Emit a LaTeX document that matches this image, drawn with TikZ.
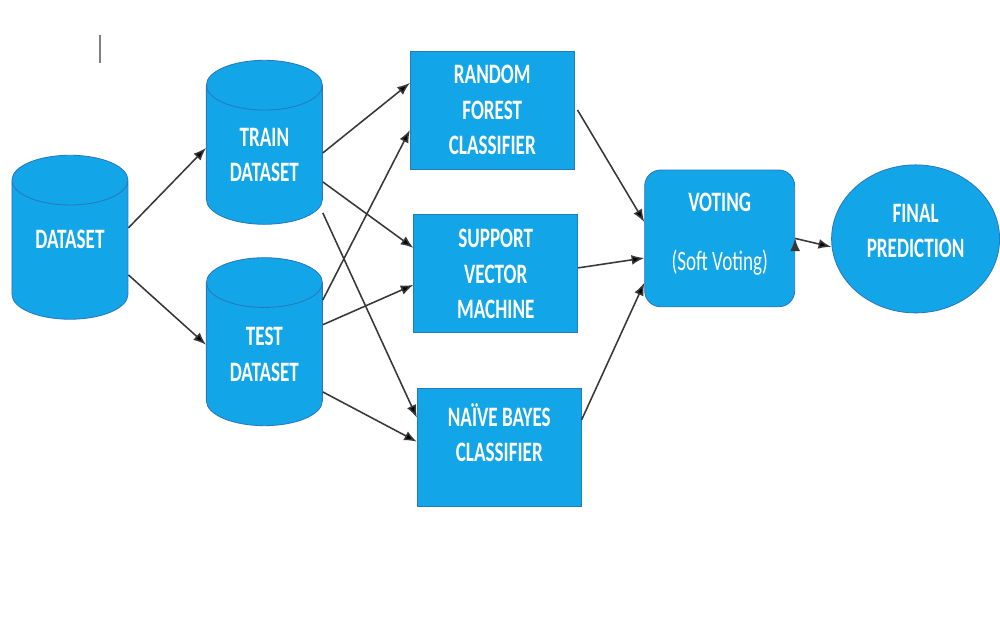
\documentclass[tikz,border=0pt]{standalone}
\usepackage{fontspec}
\newfontfamily\boxfont[FakeStretch=0.68]{Carlito}
\usetikzlibrary{shapes.geometric,arrows.meta}
\definecolor{boxblue}{RGB}{18,166,232}
\definecolor{boxedge}{RGB}{40,120,190}
\definecolor{arrowgray}{RGB}{55,55,55}

\begin{document}
\begin{tikzpicture}[x=0.025cm, y=-0.025cm,
  box/.style={fill=boxblue, draw=boxedge, line width=0.6pt, text=white,
    font=\boxfont\bfseries\fontsize{20}{25}\selectfont, align=center, inner sep=0pt},
  db/.style={box, cylinder, shape border rotate=90, aspect=0.72,
    minimum width=2.9cm, minimum height=4.1cm},
  model/.style={box, rectangle, minimum width=4.1cm, minimum height=2.95cm},
  arr/.style={-{Latex[length=9pt,width=7pt]}, draw=arrowgray, line width=1.1pt}]
  \fill[white] (0,0) rectangle (1000,635);
  \draw[gray, line width=0.8pt] (100,35) -- (100,63);

  % data sets
  \node[db] (data) at (70,250) {\raisebox{0.03cm}[0pt][0pt]{DATASET}};
  \node[db] (train) at (264.5,155) {TRAIN\\DATASET};
  \node[db, minimum height=4.2cm] (test) at (264.5,354.5) {TEST\\DATASET};

  % classifiers
  \node[model] (rf) at (492.5,110) {RANDOM\\FOREST\\CLASSIFIER};
  \node[model] (svm) at (496,274) {SUPPORT\\VECTOR\\MACHINE};
  \node[model, text depth=0.75cm] (nb) at (499.5,447.5) {NAÏVE BAYES\\CLASSIFIER};

  \node[box, rectangle, rounded corners=0.4cm, minimum width=3.75cm,
    minimum height=3.42cm, text depth=0.35cm] (vote) at (720,238.5)
    {VOTING\\[0.6cm]\mdseries(Soft Voting)};
  \node[box, ellipse, minimum width=4.2cm, minimum height=3.7cm, text depth=0.4cm]
    (final) at (916,239) {FINAL\\PREDICTION};

  \path[arr]
  ([yshift=0.55cm]data.east) edge ([yshift=0.175cm]train.west)
  ([yshift=-0.625cm]data.east) edge ([yshift=0.24cm]test.west)
  ([yshift=0.05cm]train.east) edge ([yshift=0.675cm]rf.west)
  ([yshift=-0.675cm]train.east) edge ([yshift=0.65cm]svm.west)
  ([yshift=-1.45cm]train.east) edge ([yshift=0.74cm]nb.west)
  ([yshift=1.36cm]test.east) edge ([yshift=-0.5cm]rf.west)
  ([yshift=0.74cm]test.east) edge ([yshift=-0.275cm]svm.west)
  ([yshift=-0.94cm]test.east) edge ([yshift=0.14cm]nb.west)
  ([xshift=0.07cm]rf.east) edge ([yshift=0.41cm]vote.west)
  ([yshift=0.15cm]svm.east) edge ([yshift=-0.49cm]vote.west)
  ([yshift=0.69cm]nb.east) edge ([yshift=-1.11cm]vote.west)
  (vote.east) edge ([yshift=-0.2cm]final.west);
\end{tikzpicture}
\end{document}
